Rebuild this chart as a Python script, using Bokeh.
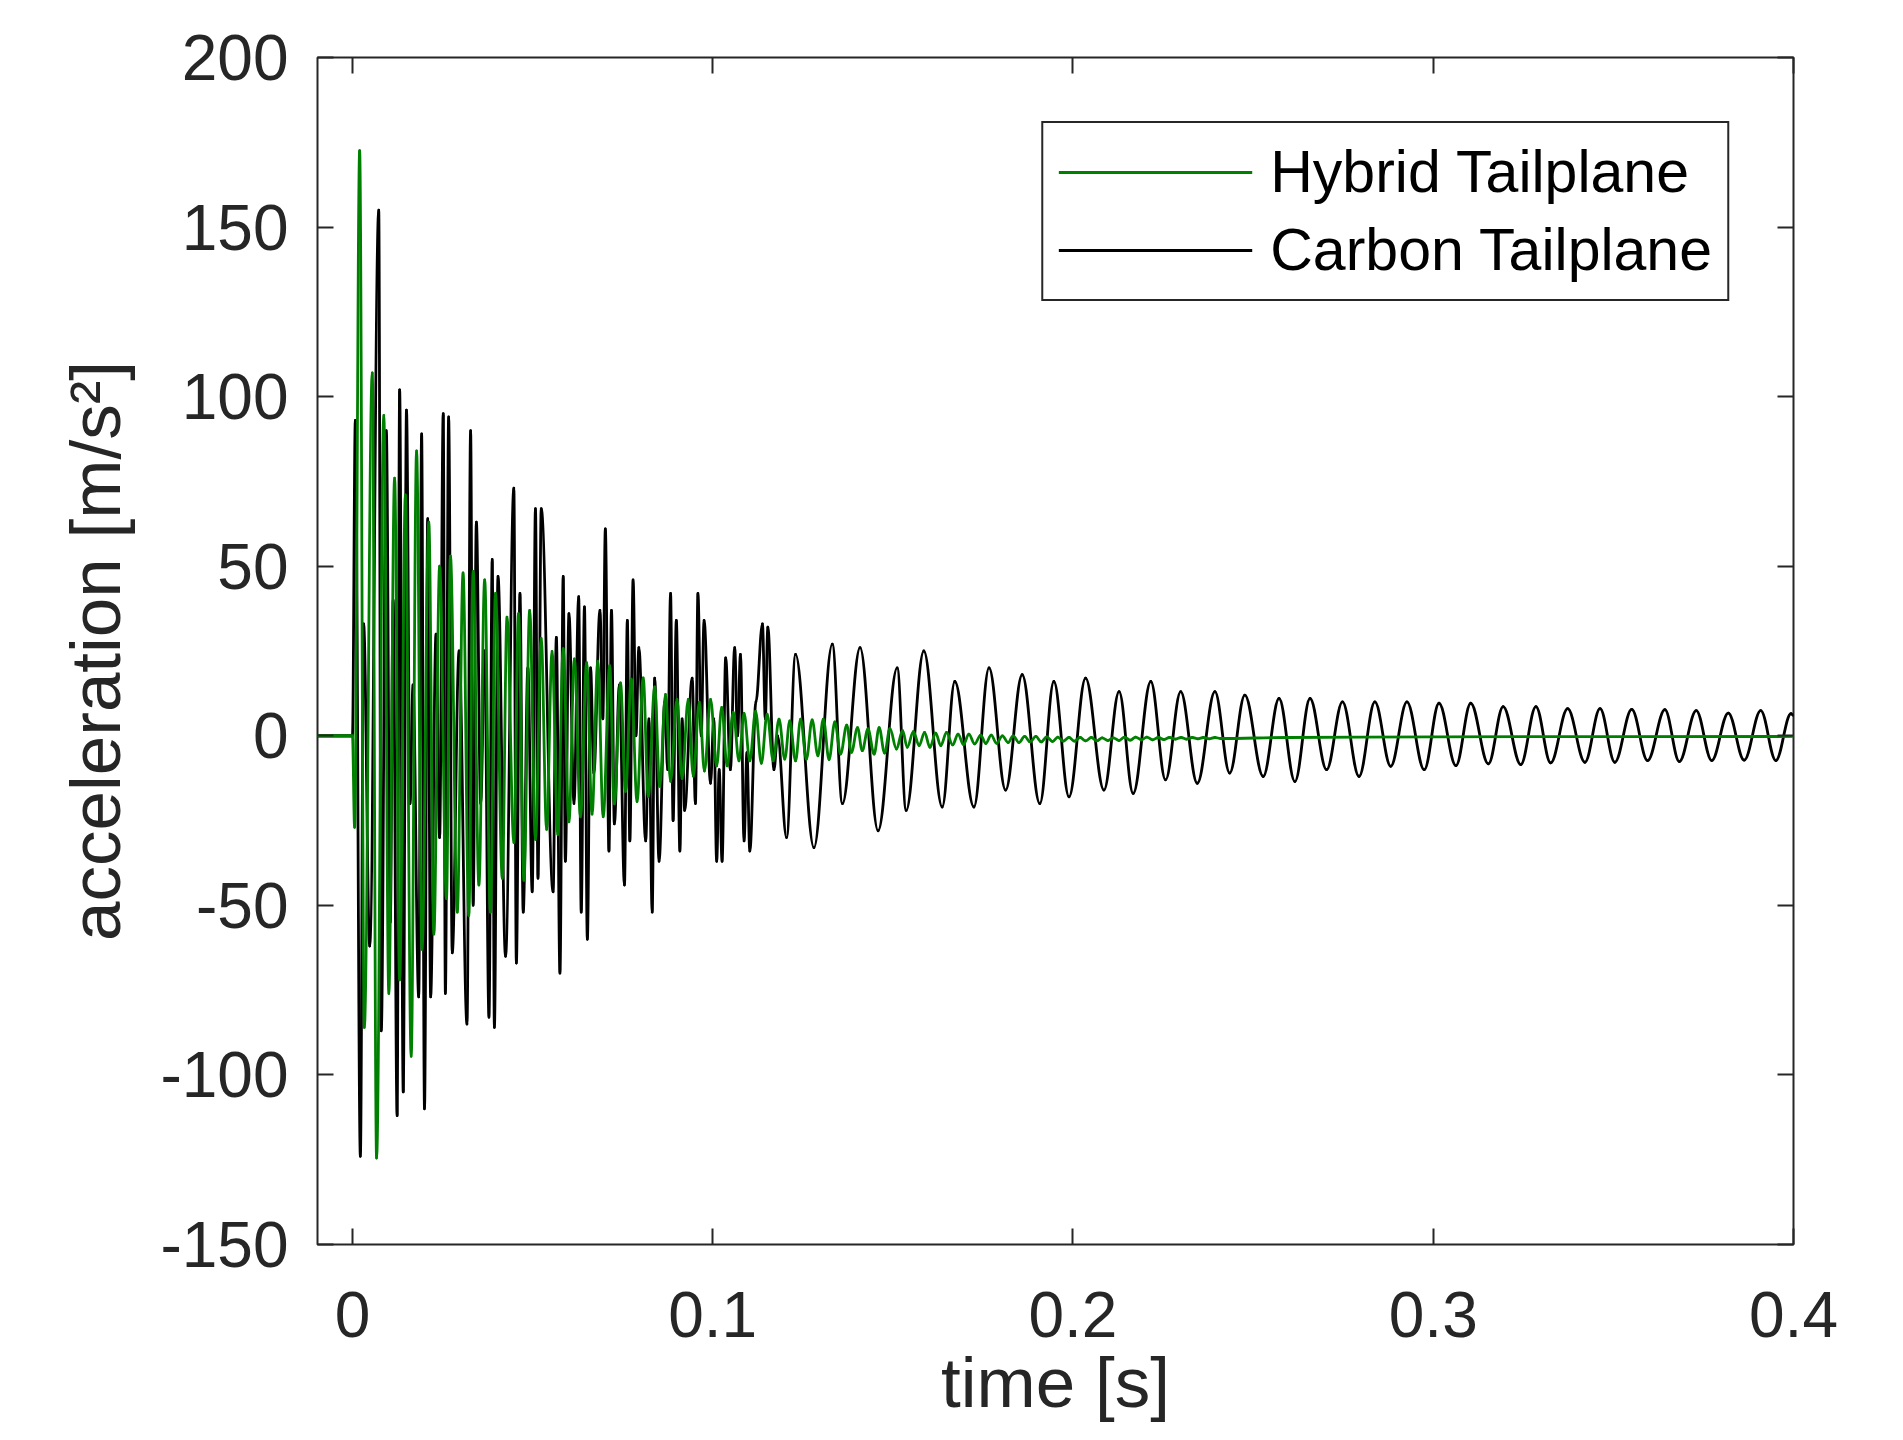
import numpy as np
from bokeh.plotting import figure
from bokeh.models import Range1d, LinearAxis, Legend, LegendItem, FixedTicker
from bokeh.embed import file_html
from bokeh.resources import INLINE

# ---------------- data ----------------
x_ticks = [0, 0.1, 0.2, 0.3, 0.4]
x_tick_labels = ["0", "0.1", "0.2", "0.3", "0.4"]
y_ticks = [-150, -100, -50, 0, 50, 100, 150, 200]
y_tick_labels = ["-150", "-100", "-50", "0", "50", "100", "150", "200"]

series_names = ["Hybrid Tailplane", "Carbon Tailplane"]

# Hybrid tailplane: extrema of the acceleration trace [s], [m/s^2]
hybrid_t = [-0.0100, 0.0000, 0.0006, 0.0020, 0.0033, 0.0055, 0.0067, 0.0087, 0.0101, 0.0117,
            0.0131, 0.0147, 0.0163, 0.0178, 0.0193, 0.0212, 0.0226, 0.0242, 0.0261, 0.0272,
            0.0291, 0.0307, 0.0323, 0.0335, 0.0351, 0.0367, 0.0383, 0.0397, 0.0416, 0.0429,
            0.0448, 0.0461, 0.0476, 0.0492, 0.0508, 0.0524, 0.0539, 0.0554, 0.0570, 0.0585,
            0.0601, 0.0616, 0.0633, 0.0650, 0.0665, 0.0681, 0.0696, 0.0714, 0.0727, 0.0744,
            0.0758, 0.0774, 0.0790, 0.0807, 0.0821, 0.0839, 0.0853, 0.0869, 0.0883, 0.0901,
            0.0915, 0.0932, 0.0946, 0.0963, 0.0977, 0.0994, 0.1011, 0.1025, 0.1040, 0.1057,
            0.1073, 0.1087, 0.1103, 0.1119, 0.1135, 0.1151, 0.1168, 0.1184, 0.1200, 0.1214,
            0.1230, 0.1244, 0.1260, 0.1276, 0.1292, 0.1307, 0.1323, 0.1339, 0.1355, 0.1372,
            0.1385, 0.1402, 0.1415, 0.1431, 0.1448, 0.1462, 0.1477, 0.1492, 0.1510, 0.1527,
            0.1540, 0.1557, 0.1573, 0.1588, 0.1603, 0.1619, 0.1633, 0.1649, 0.1666, 0.1681,
            0.1696, 0.1711, 0.1727, 0.1744, 0.1758, 0.1773, 0.1788, 0.1804, 0.1820, 0.1834,
            0.1850, 0.1866, 0.1881, 0.1897, 0.1912, 0.1927, 0.1943, 0.1958, 0.1973, 0.1989,
            0.2004, 0.2020, 0.2035, 0.2051, 0.2066, 0.2081, 0.2097, 0.2112, 0.2128, 0.2143,
            0.2159, 0.2174, 0.2190, 0.2205, 0.2221, 0.2237, 0.2252, 0.2268, 0.2284, 0.2300,
            0.2315, 0.2331, 0.2347, 0.2362, 0.2378, 0.2394, 0.2410, 0.2600, 0.3000, 0.4000]
hybrid_a = [0, 0, -27, 172.5, -86, 107, -124.5, 94.5, -76, 76,
            -72, 71, -94.5, 84, -63, 63, -58.5, 50, -48, 53,
            -52, 48, -53, 48.5, -44, 46, -52, 42, -42, 35,
            -31.5, 36, -42.6, 37, -30.6, 28.7, -27.6, 24.9, -29.1, 25.7,
            -25.4, 22.7, -23.9, 21.6, -23.1, 21.9, -23.9, 20.7, -20.1, 15.6,
            -16.4, 16.7, -19.4, 17.1, -17.9, 14.4, -14.9, 12.2, -13.4, 10.7,
            -12.6, 10.7, -11.9, 9.9, -10.4, 10.7, -8.9, 8.4, -8.9, 6.9,
            -7.4, 6.6, -7.4, 7.2, -8.1, 6.4, -7.4, 4.9, -6.9, 4.4,
            -7.4, 4.9, -6.9, 4.7, -5.9, 4.9, -7.0, 4.1, -5.4, 3.1,
            -4.9, 2.4, -4.4, 2.0, -5.4, 2.4, -5.1, 2.1, -3.9, 1.5,
            -3.4, 1.2, -2.9, 1.0, -3.4, 0.8, -2.9, 1.0, -2.7, 0.5,
            -2.6, 0.5, -2.4, 0.2, -2.3, 0.2, -2.2, 0.0, -2.0, 0.0,
            -2.0, -0.2, -1.8, -0.2, -1.8, -0.3, -1.7, -0.4, -1.6, -0.5,
            -1.6, -0.5, -1.5, -0.5, -1.5, -0.6, -1.4, -0.6, -1.4, -0.4,
            -1.3, -0.4, -1.2, -0.4, -1.2, -0.5, -1.1, -0.5, -1.0, -0.5,
            -1.0, -0.5, -0.9, -0.5, -0.9, -0.5, -0.8, -0.5, -0.3, -0.2]

# Carbon tailplane: extrema of the acceleration trace [s], [m/s^2]
carbon_t = [-0.0100, 0.0000, 0.0008, 0.0022, 0.0031, 0.0048, 0.0073, 0.0080, 0.0094, 0.0105,
            0.0113, 0.0124, 0.0131, 0.0141, 0.0150, 0.0160, 0.0168, 0.0184, 0.0192, 0.0200,
            0.0209, 0.0217, 0.0232, 0.0242, 0.0252, 0.0258, 0.0267, 0.0277, 0.0296, 0.0318,
            0.0328, 0.0335, 0.0344, 0.0356, 0.0367, 0.0379, 0.0388, 0.0394, 0.0404, 0.0425,
            0.0448, 0.0455, 0.0465, 0.0474, 0.0487, 0.0499, 0.0508, 0.0515, 0.0524, 0.0557,
            0.0566, 0.0576, 0.0585, 0.0591, 0.0601, 0.0615, 0.0628, 0.0635, 0.0644, 0.0652,
            0.0661, 0.0670, 0.0687, 0.0695, 0.0702, 0.0712, 0.0719, 0.0727, 0.0741, 0.0755,
            0.0763, 0.0770, 0.0779, 0.0787, 0.0795, 0.0814, 0.0823, 0.0832, 0.0839, 0.0851,
            0.0867, 0.0875, 0.0883, 0.0890, 0.0899, 0.0909, 0.0915, 0.0922, 0.0943, 0.0952,
            0.0959, 0.0968, 0.0976, 0.0994, 0.1003, 0.1011, 0.1018, 0.1026, 0.1036, 0.1049,
            0.1061, 0.1069, 0.1077, 0.1087, 0.1095, 0.1103, 0.1120, 0.1138, 0.1146, 0.1153,
            0.1170, 0.1180, 0.1205, 0.1230, 0.1281, 0.1332, 0.1360, 0.1409, 0.1459, 0.1512,
            0.1537, 0.1586, 0.1637, 0.1672, 0.1725, 0.1767, 0.1813, 0.1859, 0.1908, 0.1947,
            0.1989, 0.2035, 0.2086, 0.2128, 0.2167, 0.2216, 0.2257, 0.2299, 0.2345, 0.2394,
            0.2435, 0.2477, 0.2528, 0.2572, 0.2616, 0.2658, 0.2704, 0.2748, 0.2794, 0.2838,
            0.2882, 0.2927, 0.2975, 0.3016, 0.3063, 0.3104, 0.3153, 0.3194, 0.3243, 0.3285,
            0.3326, 0.3373, 0.3421, 0.3463, 0.3504, 0.3551, 0.3595, 0.3643, 0.3683, 0.3730,
            0.3773, 0.3819, 0.3863, 0.3909, 0.3951, 0.3993, 0.4000]
carbon_a = [0, 0, 93, -124, 33, -62, 155, -87, 90, -55,
            40, -112, 102, -105, 96, -20, 15, -77, 89, -110,
            64, -77, 30, -30, 95, -76, 94, -64, 25, -85,
            90, -50, 63, -20, 25, -83, 52, -86, 47, -65,
            73, -67, 42, -52, 20, -46, 67, -42, 67, -46,
            29, -70, 47, -37, 36, -20, 41, -52, 38, -60,
            20, -11, 37, 5, 61, -34, 37, -26, 15, -44,
            34, -31, 46, 0, 26, -31, 5, -52, 17, -37,
            10, -10, 42, -25, 34, -34, 5, -22, 17, -20,
            42, 0, 34, -14, 5, -37, -10, -37, 23, -10,
            26, 0, 24, -31, -5, -34, 10, 33, 5, 32,
            -10, 0, -30, 24, -33, 27, -20, 26, -28, 20,
            -22, 25, -21, 16, -21, 20, -16, 18, -20, 16,
            -18, 17, -16, 13, -17, 16, -13, 13, -14, 13,
            -11, 12, -12, 11, -13.5, 11, -10, 10, -12, 10,
            -9, 10, -10, 9.6, -8.8, 9.6, -8.3, 8.6, -8.5, 8.6,
            -8.0, 8.0, -7.8, 8.0, -7.8, 7.8, -7.3, 7.7, -7.6, 7.4,
            -7.3, 6.7, -7.2, 7.4, -7.3, 6.5, 6.0]

# ---------------- figure ----------------
FONT = "Liberation Sans"
AX = "#262626"
GREEN = "#008000"
LW = 2.8

p = figure(width=1885, height=1424,
           x_range=Range1d(-0.0097, 0.4), y_range=Range1d(-150, 200),
           output_backend="svg", toolbar_location=None,
           min_border_left=317, min_border_right=92,
           min_border_top=57, min_border_bottom=177,
           x_axis_label="time [s]", y_axis_label="acceleration [m/s²]")

p.background_fill_color = "white"
p.border_fill_color = "white"
p.xgrid.visible = False
p.ygrid.visible = False
p.outline_line_color = AX
p.outline_line_width = 2
p.outline_line_alpha = 1.0


def style_axis(ax, ticks, labels, show_labels):
    ax.ticker = FixedTicker(ticks=ticks)
    ax.axis_line_color = None
    ax.major_tick_in = 16
    ax.major_tick_out = 0
    ax.major_tick_line_color = AX
    ax.major_tick_line_width = 2
    ax.minor_tick_line_color = None
    ax.major_label_text_font = FONT
    if show_labels:
        ax.major_label_overrides = {t: l for t, l in zip(ticks, labels)}
        ax.major_label_text_color = AX
        ax.major_label_text_font_size = "64px"
    else:
        ax.major_label_text_color = None
        ax.major_label_text_alpha = 0
        ax.major_label_text_font_size = "1px"
        ax.major_label_standoff = 0
        ax.axis_label = None


xb = p.xaxis[0]
yl = p.yaxis[0]
style_axis(xb, x_ticks, x_tick_labels, True)
style_axis(yl, y_ticks, y_tick_labels, True)
xb.major_label_standoff = 47
xb.axis_label_standoff = 3
yl.major_label_standoff = 29
yl.axis_label_standoff = 22
for ax in (xb, yl):
    ax.axis_label_text_font = FONT
    ax.axis_label_text_font_size = "71px"
    ax.axis_label_text_font_style = "normal"
    ax.axis_label_text_color = AX

top_ax = LinearAxis()
right_ax = LinearAxis()
style_axis(top_ax, x_ticks, x_tick_labels, False)
style_axis(right_ax, y_ticks, y_tick_labels, False)
p.add_layout(top_ax, "above")
p.add_layout(right_ax, "right")


def draw_trace(ts, vs, color):
    # smooth curve through the read extrema (horizontal tangent at each extremum)
    t = np.asarray(ts, dtype=float)
    v = np.asarray(vs, dtype=float)
    d = t[1:] - t[:-1]
    k = 0.363
    p.bezier(x0=t[:-1], y0=v[:-1], x1=t[1:], y1=v[1:],
             cx0=t[:-1] + k * d, cy0=v[:-1], cx1=t[1:] - k * d, cy1=v[1:],
             line_color=color, line_width=LW, line_cap="round")
    # the flat lead-in segment of the trace, drawn as a line (also used by the legend)
    return p.line(ts[:2], vs[:2], line_color=color, line_width=LW)


leg_c = draw_trace(carbon_t, carbon_a, "black")
leg_h = draw_trace(hybrid_t, hybrid_a, GREEN)

legend = Legend(items=[LegendItem(label=series_names[0], renderers=[leg_h]),
                       LegendItem(label=series_names[1], renderers=[leg_c])],
                location="top_right", margin=64, padding=15, spacing=10,
                glyph_width=194, glyph_height=66, label_height=66,
                label_standoff=18,
                label_text_font=FONT, label_text_font_size="59px",
                label_text_color="black",
                border_line_color=AX, border_line_width=2, border_line_alpha=1.0,
                background_fill_color="white", background_fill_alpha=1.0)
p.add_layout(legend)

open("out.html", "w").write(file_html(p, INLINE))
